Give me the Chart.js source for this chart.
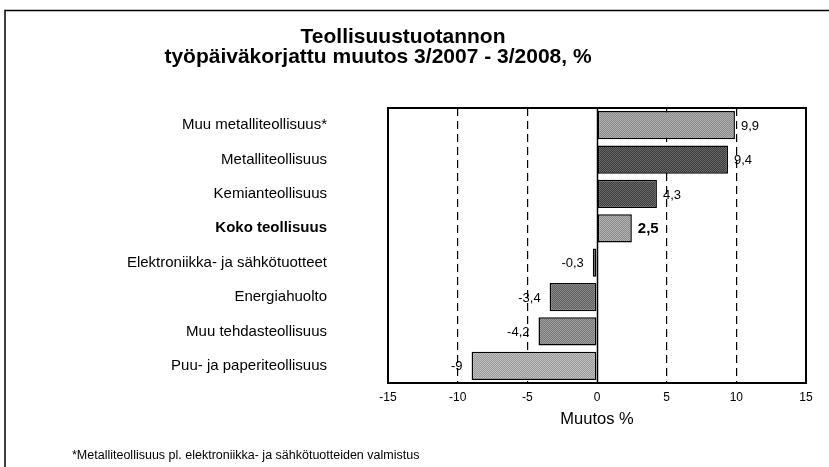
<!DOCTYPE html>
<html>
<head>
<meta charset="utf-8">
<script src="https://cdn.jsdelivr.net/npm/chart.js@4/dist/chart.umd.min.js"></script>
<style>
html,body{margin:0;padding:0;background:#fff;}
#wrap{width:829px;height:467px;position:relative;}
</style>
</head>
<body>
<div id="wrap"><canvas id="c" width="829" height="467"></canvas></div>
<script>
const categories = [
  "Muu metalliteollisuus*",
  "Metalliteollisuus",
  "Kemianteollisuus",
  "Koko teollisuus",
  "Elektroniikka- ja sähkötuotteet",
  "Energiahuolto",
  "Muu tehdasteollisuus",
  "Puu- ja paperiteollisuus"
];
const values = [9.9, 9.4, 4.3, 2.5, -0.3, -3.4, -4.2, -9];
const valueLabels = ["9,9", "9,4", "4,3", "2,5", "-0,3", "-3,4", "-4,2", "-9"];
const barColors = ["#8a8a8a", "#3a3a3a", "#3d3d3d", "#8a8a8a", "#4a4a4a", "#5e5e5e", "#767676", "#9a9a9a"];
const barColorsAlt = ["#b0b0b0", "#6a6a6a", "#6a6a6a", "#b4b4b4", "#777777", "#8a8a8a", "#a0a0a0", "#c0c0c0"];
const xTicks = [-15, -10, -5, 0, 5, 10, 15];
const titleLines = ["Teollisuustuotannon", "työpäiväkorjattu muutos 3/2007 - 3/2008, %"];
const axisTitle = "Muutos %";
const footnote = "*Metalliteollisuus pl. elektroniikka- ja sähkötuotteiden valmistus";
const boldIndex = 3;

const FONT = "'Liberation Sans', Arial, sans-serif";

function makePattern(c1, c2) {
  const p = document.createElement('canvas');
  p.width = 2; p.height = 2;
  const g = p.getContext('2d');
  g.fillStyle = c1; g.fillRect(0, 0, 2, 2);
  g.fillStyle = c2; g.fillRect(0, 0, 1, 1); g.fillRect(1, 1, 1, 1);
  return g.createPattern(p, 'repeat');
}
const fills = barColors.map((c, i) => makePattern(c, barColorsAlt[i]));

const decor = {
  id: 'decor',
  beforeDraw(chart) {
    const ctx = chart.ctx;
    ctx.save();
    ctx.fillStyle = '#fff';
    ctx.fillRect(0, 0, chart.width, chart.height);
    ctx.strokeStyle = '#000';
    ctx.lineWidth = 1.5;
    ctx.beginPath();
    ctx.moveTo(5, 467); ctx.lineTo(5, 10.5); ctx.lineTo(829, 10.5);
    ctx.stroke();
    ctx.restore();
  },
  afterDatasetsDraw(chart) {
    const ctx = chart.ctx;
    const a = chart.chartArea;
    const meta = chart.getDatasetMeta(0);
    const x = chart.scales.x;
    ctx.save();
    ctx.strokeStyle = '#000';
    ctx.lineWidth = 1.5;
    const x0 = Math.round(x.getPixelForValue(0)) + 0.5;
    ctx.beginPath(); ctx.moveTo(x0, a.top); ctx.lineTo(x0, a.bottom); ctx.stroke();
    ctx.lineWidth = 2;
    ctx.strokeRect(a.left, a.top, a.right - a.left, a.bottom - a.top);
    ctx.fillStyle = '#000';
    ctx.textBaseline = 'middle';
    meta.data.forEach((bar, i) => {
      const v = values[i];
      const bold = i === boldIndex;
      ctx.font = (bold ? 'bold 15px ' : '13px ') + FONT;
      if (v >= 0) {
        ctx.textAlign = 'left';
        ctx.fillText(valueLabels[i], bar.x + 6, bar.y + 1);
      } else {
        ctx.textAlign = 'right';
        ctx.fillText(valueLabels[i], bar.x - 9, bar.y + 1);
      }
    });
    ctx.font = 'bold 21px ' + FONT;
    ctx.textAlign = 'center';
    ctx.textBaseline = 'alphabetic';
    ctx.fillText(titleLines[0], 403, 43);
    ctx.fillText(titleLines[1], 378, 63);
    ctx.font = '12.5px ' + FONT;
    ctx.textAlign = 'left';
    ctx.fillText(footnote, 72, 459);
    ctx.restore();
  }
};

new Chart(document.getElementById('c'), {
  type: 'bar',
  data: {
    labels: categories,
    datasets: [{
      data: values,
      backgroundColor: fills,
      borderColor: '#000',
      borderWidth: 1.5,
      borderSkipped: false,
      categoryPercentage: 1,
      barPercentage: 0.82
    }]
  },
  plugins: [decor],
  options: {
    indexAxis: 'y',
    responsive: false,
    animation: false,
    layout: { padding: { top: 108, right: 23, bottom: 36, left: 0 } },
    plugins: { legend: { display: false }, tooltip: { enabled: false }, title: { display: false } },
    scales: {
      x: {
        min: -15, max: 15,
        afterBuildTicks(s) { s.ticks = xTicks.map(v => ({ value: v })); },
        afterFit(s) { s.height = 48; },
        grid: {
          drawTicks: false,
          color: ctx => (ctx.tick && (ctx.tick.value === -10 || ctx.tick.value === -5 || ctx.tick.value === 5 || ctx.tick.value === 10)) ? '#000' : 'rgba(0,0,0,0)',
          lineWidth: 1.2
        },
        border: { display: false, dash: [8, 5] },
        ticks: {
          padding: 7,
          color: '#000',
          font: { family: FONT, size: 12 },
          callback: v => String(v).replace('.', ',')
        },
        title: {
          display: true,
          text: axisTitle,
          align: 'center',
          color: '#000',
          font: { family: FONT, size: 16.5 },
          padding: { top: 0, bottom: 2 }
        }
      },
      y: {
        afterFit(s) { s.width = 388; },
        grid: { display: false, drawTicks: false },
        border: { display: false },
        ticks: {
          padding: 61,
          color: '#000',
          font: ctx => ({ family: FONT, size: 15, weight: ctx.index === boldIndex ? 'bold' : 'normal' })
        }
      }
    }
  }
});
</script>
</body>
</html>
